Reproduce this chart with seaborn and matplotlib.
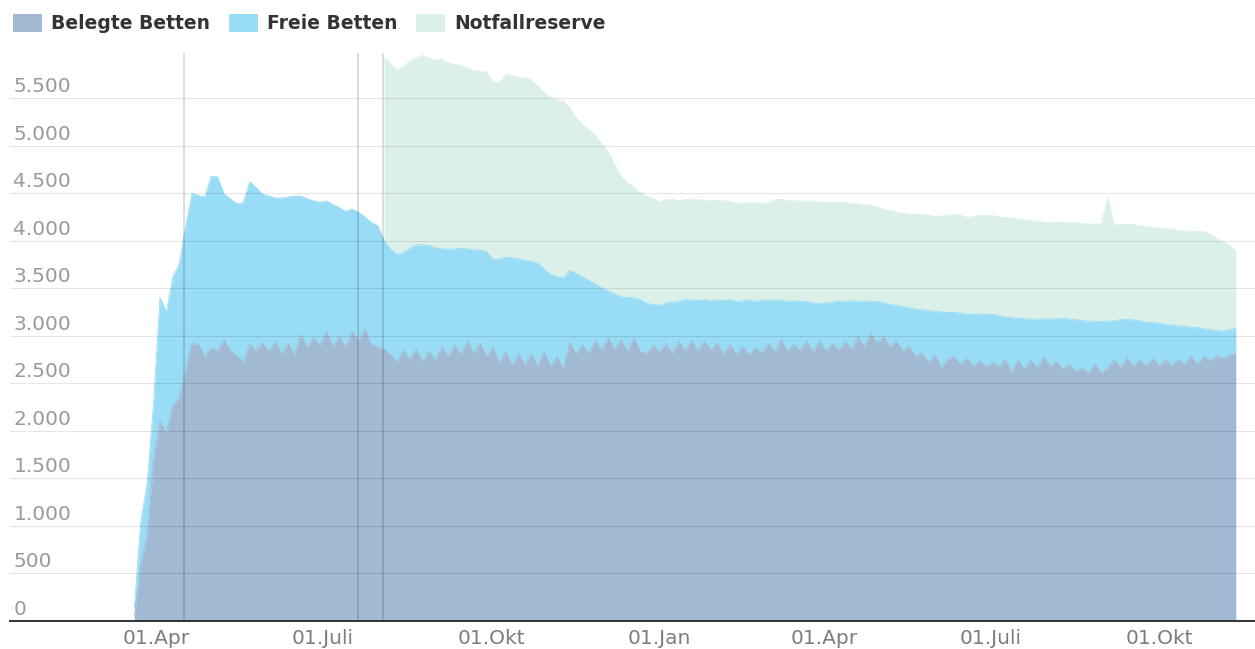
import numpy as np
import pandas as pd
import matplotlib
matplotlib.use("Agg")
import matplotlib.pyplot as plt
import matplotlib.ticker as mticker
from matplotlib.patches import Patch
from matplotlib.transforms import ScaledTranslation
import seaborn as sns

# ---------------- data (2 points per week) ----------------
start_date = "2020-03-20"

belegt = [
    50, 600, 900, 1700, 2100, 1980, 2260, 2350, 2650, 2920,
    2910, 2785, 2870, 2840, 2960, 2840, 2790, 2720, 2910, 2840,
    2925, 2830, 2945, 2810, 2920, 2805, 3015, 2875, 2980, 2890,
    3050, 2890, 2995, 2875, 3050, 2945, 3070, 2910, 2880,
    2860, 2800, 2720, 2850, 2750, 2860, 2730, 2835, 2740, 2885, 2780,
    2905, 2800, 2950, 2810, 2930, 2780, 2880, 2710, 2835, 2690,
    2815, 2690, 2815, 2675, 2835, 2675, 2780, 2650, 2930, 2810,
    2905, 2810, 2950, 2840, 2985, 2860, 2955, 2840, 2975, 2835,
    2810, 2900, 2830, 2920, 2810, 2940, 2840, 2950, 2840, 2945,
    2845, 2925, 2810, 2910, 2805, 2890, 2790, 2875, 2820, 2925,
    2830, 2960, 2840, 2910, 2840, 2945, 2830, 2945, 2840, 2925,
    2840, 2945, 2855, 2995, 2880, 3030, 2920, 2995, 2880, 2945,
    2840, 2890, 2785, 2820, 2715, 2805, 2660, 2750, 2780, 2700,
    2765, 2680, 2735, 2680, 2715, 2680, 2750, 2615, 2740, 2650,
    2745, 2660, 2780, 2680, 2730, 2645, 2700, 2625, 2660, 2610,
    2700, 2610, 2660, 2745, 2665, 2770, 2680, 2750, 2680, 2765,
    2680, 2750, 2685, 2750, 2700, 2780, 2700, 2785, 2740, 2785,
    2760, 2790, 2820,
]

# top of the blue area = belegte + freie Betten
betten_gesamt = [
    150, 1050, 1450, 2300, 3400, 3250, 3620, 3760, 4150, 4500,
    4475, 4460, 4680, 4670, 4490, 4440, 4390, 4400, 4620, 4560,
    4490, 4470, 4450, 4450, 4460, 4470, 4470, 4440, 4420, 4405,
    4420, 4380, 4350, 4310, 4335, 4300, 4250, 4190, 4160,
    4000, 3910, 3855, 3880, 3920, 3955, 3960, 3950, 3925, 3915, 3910,
    3915, 3920, 3915, 3905, 3900, 3885, 3800, 3810, 3830, 3820,
    3810, 3795, 3780, 3765, 3700, 3645, 3620, 3610, 3690, 3655,
    3620, 3580, 3540, 3505, 3470, 3440, 3410, 3405, 3400, 3380,
    3340, 3330, 3320, 3345, 3355, 3360, 3385, 3375, 3370, 3380,
    3365, 3375, 3370, 3380, 3360, 3370, 3375, 3365, 3370, 3380,
    3370, 3375, 3365, 3370, 3360, 3365, 3345, 3340, 3350, 3355,
    3370, 3365, 3370, 3360, 3370, 3365, 3360, 3345, 3330, 3320,
    3310, 3295, 3280, 3275, 3265, 3260, 3250, 3245, 3245, 3240,
    3230, 3225, 3230, 3225, 3225, 3210, 3195, 3190, 3185, 3180,
    3175, 3175, 3180, 3175, 3180, 3185, 3175, 3170, 3160, 3155,
    3155, 3150, 3155, 3160, 3170, 3175, 3165, 3160, 3145, 3140,
    3135, 3120, 3115, 3105, 3100, 3090, 3085, 3075, 3065, 3060,
    3050, 3065, 3080,
]

# top of the whole stack incl. Notfallreserve (reported from 03 Aug 2020 on)
reserve_start = 39
gesamt_mit_reserve = [
    5930, 5855, 5800, 5830, 5895, 5920, 5950, 5920, 5900, 5910, 5870,
    5855, 5845, 5820, 5790, 5785, 5775, 5670, 5665, 5750, 5735,
    5720, 5715, 5690, 5625, 5560, 5505, 5480, 5470, 5400, 5290,
    5220, 5170, 5110, 5020, 4930, 4800, 4680, 4610, 4560, 4505,
    4470, 4445, 4410, 4430, 4440, 4420, 4430, 4440, 4430, 4425,
    4420, 4425, 4420, 4415, 4400, 4390, 4405, 4400, 4390, 4400,
    4430, 4440, 4420, 4420, 4420, 4415, 4420, 4410, 4405, 4405,
    4400, 4405, 4395, 4390, 4380, 4370, 4355, 4335, 4315, 4300,
    4290, 4280, 4280, 4280, 4270, 4255, 4260, 4265, 4280, 4270,
    4245, 4255, 4265, 4265, 4265, 4250, 4245, 4240, 4230, 4220,
    4210, 4205, 4195, 4195, 4200, 4195, 4190, 4195, 4180, 4175,
    4175, 4180, 4460, 4165, 4170, 4175, 4170, 4160, 4150, 4140,
    4135, 4125, 4120, 4110, 4105, 4100, 4100, 4095, 4070, 4030,
    3990, 3950, 3895,
]

series_names = ["Belegte Betten", "Freie Betten", "Notfallreserve"]
series_colors = ["#a1b9d2", "#98dcf5", "#dcf0ea"]

marker_dates = ["2020-04-16", "2020-07-20", "2020-08-03"]

tick_dates = ["2020-04-01", "2020-07-01", "2020-10-01", "2021-01-01",
              "2021-04-01", "2021-07-01", "2021-10-01"]
tick_labels = ["01.Apr", "01.Juli", "01.Okt", "01.Jan", "01.Apr", "01.Juli", "01.Okt"]

y_ticks = list(range(0, 6000, 500))

# ---------------- build table ----------------
n = len(belegt)
dates = pd.date_range(start_date, periods=n, freq="84h")
top_all = np.full(n, np.nan)
top_all[reserve_start:reserve_start + len(gesamt_mit_reserve)] = gesamt_mit_reserve
df = pd.DataFrame({
    "datum": dates,
    "belegt": np.array(belegt, float),
    "gesamt": np.array(betten_gesamt, float),
    "gesamt_reserve": top_all,
})
df["frei"] = df["gesamt"] - df["belegt"]
df["reserve"] = df["gesamt_reserve"] - df["gesamt"]

# ---------------- figure ----------------
sns.set_theme(style="white")
plt.rcParams["font.family"] = ["DejaVu Sans"]

W, H = 1255, 649
fig = plt.figure(figsize=(W / 100, H / 100), dpi=100)
ax = fig.add_axes([10 / W, 1 - 621 / H, 1 - 10 / W, (621 - 53) / H])

c_b, c_f, c_n = series_colors
ax.fill_between(df["datum"], 0, df["belegt"], color=c_b, lw=0, zorder=1)
ax.fill_between(df["datum"], df["belegt"], df["gesamt"], color=c_f, lw=0, zorder=1)
ax.fill_between(df["datum"], df["gesamt"], df["gesamt_reserve"], color=c_n, lw=0, zorder=1)

sns.lineplot(data=df, x="datum", y="gesamt_reserve", color=c_n, lw=0.6, ax=ax, zorder=1.2)
sns.lineplot(data=df, x="datum", y="gesamt", color=c_f, lw=0.6, ax=ax, zorder=1.2)
sns.lineplot(data=df, x="datum", y="belegt", color=c_b, lw=0.6, ax=ax, zorder=1.2)

for d in marker_dates:
    ax.axvline(pd.Timestamp(d), color="black", alpha=0.15, lw=1.3, zorder=3)

ax.set_xlim(pd.Timestamp("2020-01-12"), pd.Timestamp("2021-11-22 12:00"))
ax.set_ylim(0, 5975)
ax.set_xlabel("")
ax.set_ylabel("")

# grid on top of areas
ax.set_axisbelow(False)
ax.set_yticks(y_ticks)
ax.yaxis.grid(True, color="black", alpha=0.10, lw=0.8)
ax.xaxis.grid(False)
ax.yaxis.set_major_formatter(mticker.FuncFormatter(lambda v, p: f"{int(v):,}".replace(",", ".")))
ax.tick_params(axis="y", length=0, pad=-2.5, labelsize=14.5, labelcolor="#9a9a9a")
off = ScaledTranslation(0, 6 / 100, fig.dpi_scale_trans)
for lab in ax.get_yticklabels():
    lab.set_horizontalalignment("left")
    lab.set_verticalalignment("baseline")
    lab.set_transform(lab.get_transform() + off)

ax.set_xticks([pd.Timestamp(d) for d in tick_dates])
ax.set_xticklabels(tick_labels)
ax.tick_params(axis="x", length=0, pad=6, labelsize=14.5, labelcolor="#7d7d7d")

for s in ["left", "right", "top"]:
    ax.spines[s].set_visible(False)
ax.spines["bottom"].set_color("#333333")
ax.spines["bottom"].set_linewidth(1.4)
ax.spines["bottom"].set_zorder(4)

handles = [Patch(facecolor=c, edgecolor="none", label=l) for c, l in zip(series_colors, series_names)]
leg = fig.legend(handles=handles, loc="upper left", bbox_to_anchor=(13 / W, 1 - 14 / H),
                 ncol=3, frameon=False, handlelength=1.55, handleheight=1.1,
                 handletextpad=0.5, columnspacing=0.98, borderpad=0, borderaxespad=0,
                 prop={"size": 13.5, "weight": "bold"})
for t in leg.get_texts():
    t.set_color("#333333")

fig.savefig("out.png", dpi=100)
